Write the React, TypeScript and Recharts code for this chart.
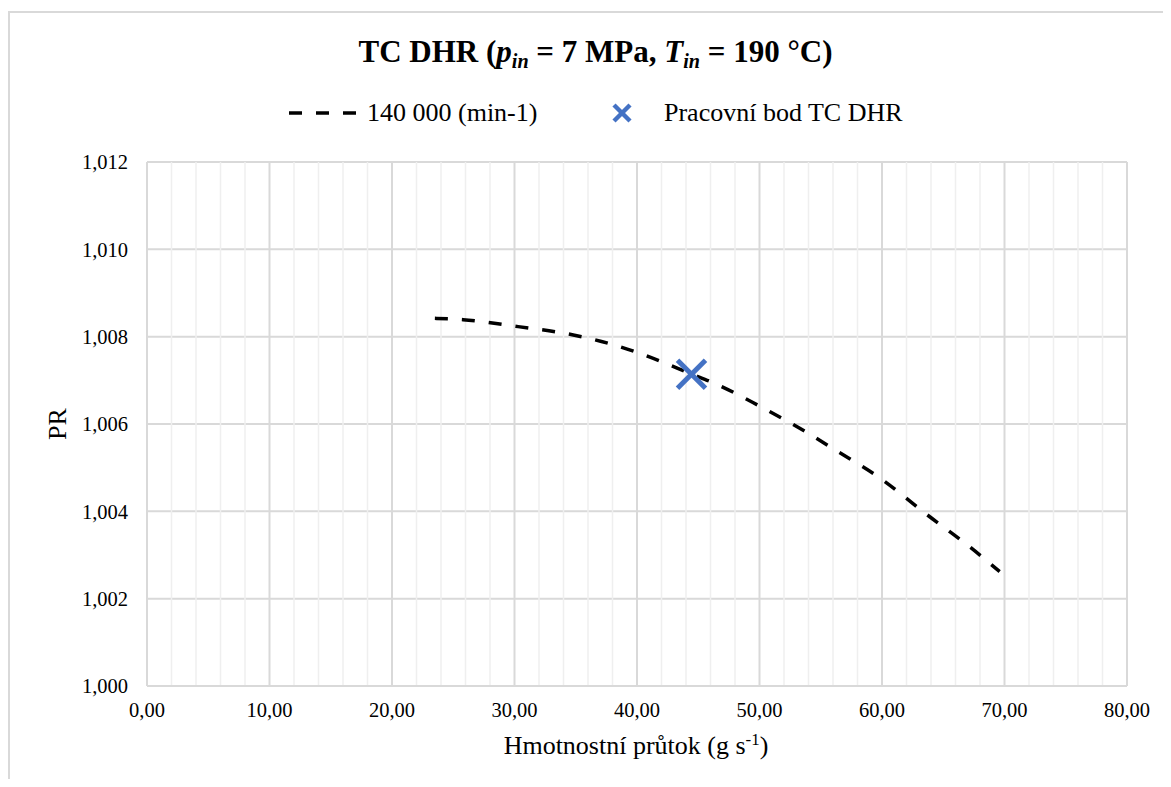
import React from 'react';
import {
  ComposedChart,
  Line,
  Scatter,
  XAxis,
  YAxis,
  CartesianGrid,
  ReferenceLine,
} from 'recharts';

// Mass flow (g/s) vs pressure ratio
const curveFlow = [23.5, 25.8, 30.3, 34.8, 37.1, 40.0, 44.5, 46.5, 50.0, 53.9, 56.1, 60.0, 63.5, 67.1, 69.6];
const curvePR = [1.00842, 1.00839, 1.00823, 1.00804, 1.00789, 1.00764, 1.00714, 1.00691, 1.00641, 1.0058, 1.00542, 1.00473, 1.00396, 1.0032, 1.00262];

const pointFlow = [44.45];
const pointPR = [1.00714];

const xTicks = [0, 10, 20, 30, 40, 50, 60, 70, 80];
const xMinorTicks = [2, 4, 6, 8, 12, 14, 16, 18, 22, 24, 26, 28, 32, 34, 36, 38, 42, 44, 46, 48, 52, 54, 56, 58, 62, 64, 66, 68, 72, 74, 76, 78];
const yTicks = [1.0, 1.002, 1.004, 1.006, 1.008, 1.01, 1.012];

const curveLabel = '140 000 (min-1)';
const pointLabel = 'Pracovní bod TC DHR';

const FONT = '"Liberation Serif", "Times New Roman", serif';
const BLUE = '#4472C4';
const GRID = '#d9d9d9';

const curveData = curveFlow.map((x, i) => ({ x, pr: curvePR[i] }));
const pointData = pointFlow.map((x, i) => ({ x, pr: pointPR[i] }));

function XMark({ cx, cy, size = 28, width = 5 }: { cx: number; cy: number; size?: number; width?: number }) {
  const h = size / 2;
  return (
    <g>
      <line x1={cx - h} y1={cy - h} x2={cx + h} y2={cy + h} stroke={BLUE} strokeWidth={width} />
      <line x1={cx - h} y1={cy + h} x2={cx + h} y2={cy - h} stroke={BLUE} strokeWidth={width} />
    </g>
  );
}

const sub = { fontSize: '0.65em', verticalAlign: '-0.3em' } as const;

export default function App() {
  return (
    <div style={{ position: 'relative', width: 1155, height: 771, overflow: 'hidden', fontFamily: FONT, background: '#fff' }}>
      <div
        style={{
          position: 'absolute',
          left: 0,
          top: 3,
          right: -20,
          bottom: -20,
          border: `2px solid ${GRID}`,
        }}
      />

      {/* title */}
      <div
        style={{
          position: 'absolute',
          left: 0,
          width: 1175,
          top: 25,
          lineHeight: '38px',
          textAlign: 'center',
          fontSize: 31,
          fontWeight: 'bold',
          color: '#000',
        }}
      >
        TC DHR (<i>p</i>
        <i style={sub}>in</i> = 7 MPa, <i>T</i>
        <i style={sub}>in</i> = 190 °C)
      </div>

      {/* legend */}
      <svg style={{ position: 'absolute', left: 280, top: 95 }} width={75} height={20}>
        <line x1={1} y1={10} x2={70} y2={10} stroke="#000" strokeWidth={3.5} strokeDasharray="13 14" />
      </svg>
      <div style={{ position: 'absolute', left: 359, top: 90, lineHeight: '30px', fontSize: 26, color: '#000' }}>
        {curveLabel}
      </div>
      <svg style={{ position: 'absolute', left: 602, top: 93 }} width={24} height={24}>
        <XMark cx={12} cy={12} size={16} width={4.5} />
      </svg>
      <div style={{ position: 'absolute', left: 656, top: 90, lineHeight: '30px', fontSize: 26, color: '#000' }}>
        {pointLabel}
      </div>

      {/* axis titles */}
      <div
        style={{
          position: 'absolute',
          left: 428,
          width: 400,
          top: 722,
          lineHeight: '32px',
          textAlign: 'center',
          fontSize: 26,
          color: '#000',
        }}
      >
        Hmotnostní průtok (g s<sup style={{ fontSize: '0.65em', verticalAlign: '0.55em', lineHeight: 0 }}>-1</sup>)
      </div>
      <div
        style={{
          position: 'absolute',
          left: 49.5 - 30,
          top: 416 - 16,
          width: 60,
          lineHeight: '32px',
          textAlign: 'center',
          fontSize: 26,
          color: '#000',
          transform: 'rotate(-90deg)',
        }}
      >
        PR
      </div>

      <ComposedChart
        width={1155}
        height={771}
        margin={{ top: 154, right: 36, left: 79, bottom: 63 }}
        style={{ position: 'absolute', left: 0, top: 0 }}
      >
        <CartesianGrid stroke={GRID} strokeWidth={2} />
        {xMinorTicks.map((t) => (
          <ReferenceLine key={t} x={t} stroke="#efefef" strokeWidth={1.5} ifOverflow="hidden" />
        ))}
        <XAxis
          dataKey="x"
          type="number"
          domain={[0, 80]}
          ticks={xTicks}
          allowDataOverflow
          height={30}
          tickLine={false}
          axisLine={{ stroke: GRID, strokeWidth: 2 }}
          tickSize={0}
          tickMargin={16}
          tick={{ fontSize: 20.5, fill: '#000', fontFamily: FONT }}
          tickFormatter={(v: number) => v.toFixed(2).replace('.', ',')}
        />
        <YAxis
          dataKey="pr"
          type="number"
          domain={[1.0, 1.012]}
          ticks={yTicks}
          allowDataOverflow
          width={60}
          tickLine={false}
          axisLine={false}
          tickSize={0}
          tickMargin={19}
          tick={{ fontSize: 20.5, fill: '#000', fontFamily: FONT }}
          tickFormatter={(v: number) => v.toFixed(3).replace('.', ',')}
        />
        <Line
          data={curveData}
          dataKey="pr"
          type="monotone"
          stroke="#000"
          strokeWidth={3.5}
          strokeDasharray="13 14"
          dot={false}
          activeDot={false}
          isAnimationActive={false}
        />
        <Scatter
          data={pointData}
          dataKey="pr"
          isAnimationActive={false}
          shape={(props: any) => <XMark cx={props.cx} cy={props.cy} />}
        />
      </ComposedChart>
    </div>
  );
}
